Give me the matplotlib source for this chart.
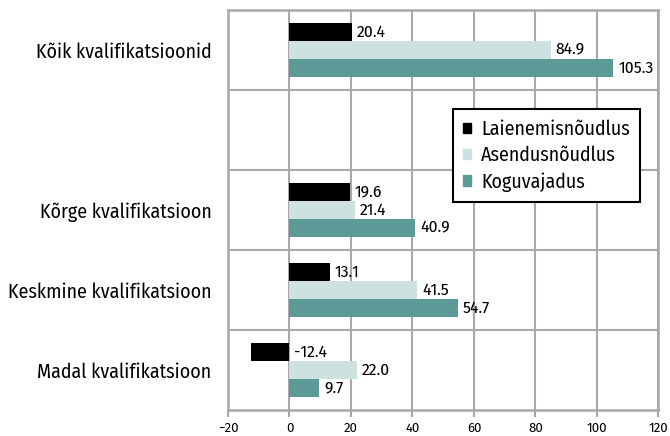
import numpy as np
import matplotlib.pyplot as plt
from matplotlib.ticker import FixedLocator

categories = ["Kõik kvalifikatsioonid", "", "Kõrge kvalifikatsioon",
              "Keskmine kvalifikatsioon", "Madal kvalifikatsioon"]
laienemis = [20.4, None, 19.6, 13.1, -12.4]
asendus = [84.9, None, 21.4, 41.5, 22.0]
koguvajadus = [105.3, None, 40.9, 54.7, 9.7]

series = [("Laienemisnõudlus", laienemis, "#000000"),
          ("Asendusnõudlus", asendus, "#cde2e0"),
          ("Koguvajadus", koguvajadus, "#5b9a97")]

plt.rcParams['font.family'] = ['Fira Sans Condensed', 'DejaVu Sans']
grid_c = "#a8a8a8"

fig = plt.figure(figsize=(6.7, 4.36), dpi=100)
ax = fig.add_axes([0.3403, 0.0596, 0.6425, 0.9174])

rows = np.arange(len(categories))
h = 0.225
handles = []
for i, (name, vals, col) in enumerate(series):
    off = (i - 1) * h
    for r, v in zip(rows, vals):
        if v is None:
            continue
        ax.barh(r + off, v, height=h, color=col, zorder=3)
        ax.text(max(v, 0) + 1.6, r + off, f"{v:.1f}", va="center", ha="left",
                fontsize=12.5, zorder=4)
    handles.append(plt.Rectangle((0, 0), 1, 1, color=col))

ax.set_xlim(-20, 120)
ax.set_ylim(4.5, -0.5)
ax.set_xticks(np.arange(-20, 121, 20))
ax.tick_params(axis="x", length=5, width=1.5, color=grid_c, direction="out", pad=4)
for lbl in ax.get_xticklabels():
    lbl.set_family(['Fira Sans', 'DejaVu Sans'])
    lbl.set_fontsize(9.5)
ax.set_yticks(rows)
ax.set_yticklabels(categories, fontsize=14.3)
ax.tick_params(axis="y", length=0, pad=12)
ax.yaxis.set_minor_locator(FixedLocator(rows[:-1] + 0.5))
ax.tick_params(axis="y", which="minor", length=0)

ax.grid(axis="x", which="major", color=grid_c, linewidth=1.5, zorder=0)
ax.grid(axis="y", which="minor", color=grid_c, linewidth=1.5, zorder=0)
for s in ax.spines.values():
    s.set_color(grid_c)
    s.set_linewidth(1.8)

leg = ax.legend(handles, [s[0] for s in series], loc="upper left",
                bbox_to_anchor=(0.523, 0.752), fontsize=14.3, frameon=True,
                fancybox=False, handlelength=0.4, handleheight=0.4,
                handletextpad=0.5, borderpad=0.5, labelspacing=0.35,
                borderaxespad=0)
leg.get_frame().set_edgecolor("#000000")
leg.get_frame().set_linewidth(1.5)
leg.get_frame().set_alpha(1)

fig.savefig("out.png", dpi=100)
